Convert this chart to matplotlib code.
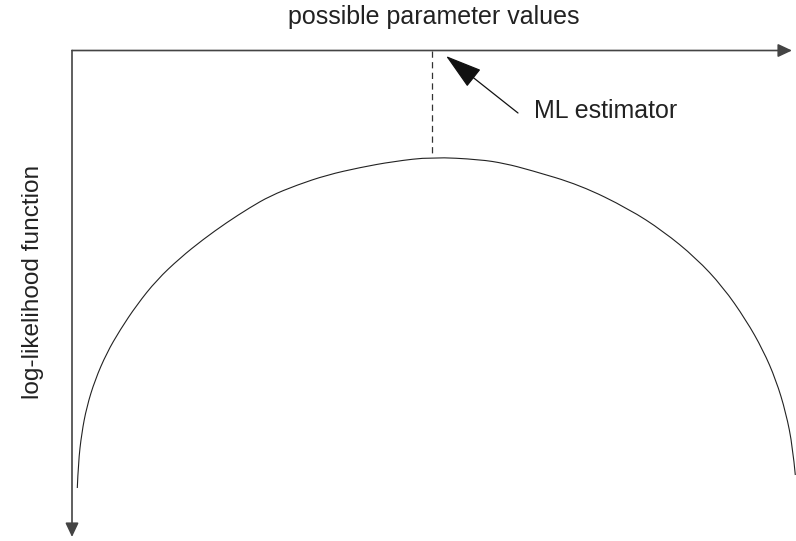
import matplotlib
matplotlib.use("agg")
import matplotlib.pyplot as plt
from matplotlib.patches import FancyArrowPatch, PathPatch
from matplotlib.path import Path

plt.rcParams["font.family"] = ["Liberation Sans", "DejaVu Sans"]

# log-likelihood curve (parameter position, depth below the axis)
curve_x = [77.3, 78.3, 81.7, 86.7, 95, 106.7, 120, 136.7, 156.7, 180, 203, 226.7,
           250, 270, 297, 327, 360, 393, 432, 480, 505, 530, 580, 629, 663, 696,
           723, 746, 763, 776, 786, 792.7, 795.3]
curve_y = [488, 463, 433, 407, 380, 353, 330, 305, 280, 258, 239.5, 222.5,
           207.5, 196, 185, 175, 167.5, 161.5, 157, 159.5, 163.5, 170, 185, 209, 231, 258,
           287, 320, 350, 380, 413, 447, 475]

ml_x = 432          # maximum likelihood position
ml_peak = 157
axis_origin = (72, 50.5)
axis_x_end = 792
axis_y_end = 537

title_text = "possible parameter values"
ylabel_text = "log-likelihood function"
ml_text = "ML estimator"

ink = "#222222"
axis_col = "#444444"

fig = plt.figure(figsize=(7.96, 5.41), dpi=100)
ax = fig.add_axes([0, 0, 1, 1])
ax.set_xlim(0, 796)
ax.set_ylim(541, 0)
ax.axis("off")

# axes drawn as arrows
for end in [(axis_x_end, axis_origin[1]), (axis_origin[0], axis_y_end)]:
    arr = FancyArrowPatch(axis_origin, end, arrowstyle="-|>,head_length=8.5,head_width=4",
                          mutation_scale=1, shrinkA=0, shrinkB=0,
                          color=axis_col, lw=1.2)
    ax.add_patch(arr)

# the curve, smoothed as a quadratic spline through the read points
pts = list(zip(curve_x, curve_y))
verts = [pts[0]]
codes = [Path.MOVETO]
for i in range(1, len(pts) - 1):
    mid = ((pts[i][0] + pts[i + 1][0]) / 2, (pts[i][1] + pts[i + 1][1]) / 2)
    if i == len(pts) - 2:
        mid = pts[-1]
    verts += [pts[i], mid]
    codes += [Path.CURVE3, Path.CURVE3]
ax.add_patch(PathPatch(Path(verts, codes), facecolor="none", edgecolor=ink, lw=0.8))

# dashed line down to the maximum
ax.plot([ml_x, ml_x], [axis_origin[1], ml_peak], color="#333333", lw=0.9,
        linestyle=(0, (5, 3.5)))

# ML estimator pointer
ml_arrow = FancyArrowPatch((518, 113), (446, 56),
                           arrowstyle="-|>,head_length=23.5,head_width=7",
                           mutation_scale=1, shrinkA=0, shrinkB=0,
                           color="#111111", lw=0.9)
ax.add_patch(ml_arrow)

ax.text(534, 118.3, ml_text, fontsize=18, color=ink, ha="left", va="baseline")
ax.text(434, 24, title_text, fontsize=18, color=ink, ha="center", va="baseline")
ax.text(33, 282, ylabel_text, fontsize=17.6, color=ink, ha="center", va="center",
        rotation=90)

fig.savefig("out.png", dpi=100)
